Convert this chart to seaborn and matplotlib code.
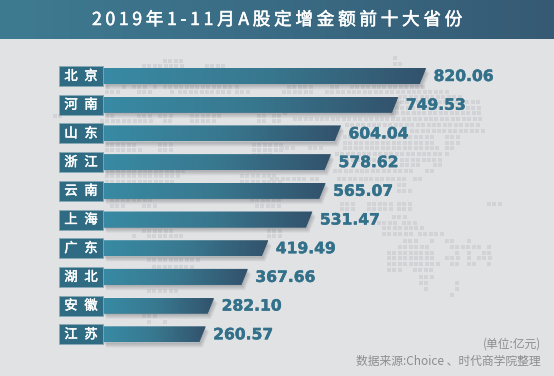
import numpy as np
import matplotlib
matplotlib.use('Agg')
import matplotlib.pyplot as plt
import matplotlib.patheffects as pe
from matplotlib.colors import LinearSegmentedColormap
from matplotlib.patches import Polygon, Rectangle
import seaborn as sns

title = '2019年1-11月A股定增金额前十大省份'
provinces = ['北京', '河南', '山东', '浙江', '云南', '上海', '广东', '湖北', '安徽', '江苏']
values = [820.06, 749.53, 604.04, 578.62, 565.07, 531.47, 419.49, 367.66, 282.10, 260.57]
unit_note = '(单位:亿元)'
source_note = '数据来源:Choice 、时代商学院整理'

# background world map, dot runs per row: y, then x start / x end in pixels
map_rows = [
    (58, [(393, 397)]), (61, [(163, 182)]), (64, [(393, 400)]),
    (66, [(142, 182), (205, 225)]),
    (87, [(105, 108), (122, 124), (132, 145), (153, 155), (163, 230), (235, 238), (287, 308), (330, 338), (350, 420)]),
    (92, [(105, 115), (137, 152), (170, 172), (178, 230), (235, 245), (282, 312), (325, 448)]),
    (97, [(398, 458)]), (102, [(400, 480)]), (108, [(395, 480)]), (113, [(283, 286), (390, 480)]),
    (116, [(53, 58), (105, 113), (137, 152), (158, 172), (190, 220), (257, 265), (272, 280)]),
    (119, [(293, 480)]),
    (121, [(100, 152), (163, 172), (190, 213), (257, 265), (272, 280)]),
    (125, [(345, 480)]), (131, [(410, 480)]),
    (137, [(343, 433), (445, 459)]), (143, [(343, 433), (445, 459)]),
    (145, [(105, 135), (158, 172), (252, 280)]),
    (148, [(280, 295), (308, 323), (343, 438), (445, 453)]),
    (150, [(105, 140), (158, 172), (252, 280)]),
    (154, [(335, 438), (445, 448)]), (155, [(252, 270)]),
    (160, [(340, 438)]), (165, [(400, 417), (433, 438)]),
    (171, [(105, 182), (333, 412), (425, 433)]),
    (176, [(105, 177), (240, 277)]),
    (179, [(270, 302), (310, 317), (337, 403), (413, 422)]),
    (182, [(105, 172), (240, 280)]),
    (185, [(397, 405)]), (191, [(397, 407)]),
    (200, [(110, 152), (250, 280)]),
    (204, [(340, 353), (367, 390), (397, 407), (487, 500)]),
    (206, [(110, 125), (142, 157), (255, 280)]),
    (209, [(340, 353), (367, 390), (397, 407)]),
    (217, [(392, 407)]), (223, [(377, 393), (402, 412)]),
    (228, [(382, 422)]), (231, [(142, 172), (267, 280)]),
    (234, [(382, 412), (418, 443)]), (236, [(132, 135), (147, 182), (267, 280)]),
    (241, [(403, 417), (430, 433), (445, 453), (467, 470)]),
    (247, [(398, 428), (450, 480), (487, 491)]),
    (253, [(387, 433), (455, 459), (467, 470), (482, 491)]),
    (258, [(387, 433), (445, 459), (467, 470), (477, 491)]),
    (260, [(147, 198)]),
    (264, [(387, 438), (450, 459), (467, 475), (487, 491)]),
    (267, [(152, 193)]),
    (270, [(387, 402), (413, 433)]), (277, [(419, 433)]),
    (283, [(419, 427), (455, 459)]), (289, [(424, 427), (455, 459)]),
    (291, [(147, 177)]), (295, [(450, 453)]),
    (316, [(142, 157)]), (322, [(147, 150), (163, 167)]),
]

sns.set_theme(style='white')
cjk = ['Noto Sans CJK SC', 'DejaVu Sans']
plt.rcParams['font.family'] = cjk

W, H = 554, 376
fig = plt.figure(figsize=(W / 100, H / 100), dpi=100, facecolor='#e0e2e4')

# pixel space layer for everything behind the bars
bg = fig.add_axes([0, 0, 1, 1])
bg.set_xlim(0, W)
bg.set_ylim(H, 0)
bg.axis('off')

dot_x, dot_y = [], []
for y, runs in map_rows:
    for x0, x1 in runs:
        for x in np.arange(x0, x1 + 1, 5.45):
            dot_x.append(x + 1.8)
            dot_y.append(y)
bg.scatter(dot_x, dot_y, marker='s', s=6.0, color='#d1d3d6', linewidths=0)

band_cmap = LinearSegmentedColormap.from_list('band', ['#3e7b91', '#3a6b84', '#365a74'])
bg.imshow(np.linspace(0, 1, 256)[None, :], cmap=band_cmap, extent=(0, W, 39, 0), aspect='auto', zorder=2)
bg.set_xlim(0, W)
bg.set_ylim(H, 0)
title_text = bg.text(276.5, 20, '\u2009'.join(title), color='white', fontsize=12.8, ha='center', va='center', zorder=3)
title_text.set_path_effects([pe.withStroke(linewidth=0.35, foreground='white')])
bg.text(541, 344, unit_note, color='#8b8d90', fontsize=8.5, ha='right', va='center')
bg.text(541, 361, source_note, color='#8b8d90', fontsize=8.5, ha='right', va='center')

# bar layer, value 0 sits at x=103 px
ax = fig.add_axes([0, 0, 1, 1])
ax.patch.set_alpha(0)
x_scale = 0.394
y_pitch = 28.7
y_first = 76
bar_h = 16 / y_pitch

sns.barplot(x=values, y=provinces, orient='h', width=bar_h, color='#36607a', saturation=1, ax=ax, zorder=3)

xlim = (-103 / x_scale, (W - 103) / x_scale)
ylim = ((H - y_first) / y_pitch, -y_first / y_pitch)


def to_x(px):
    return (px - 103) / x_scale


bar_cmap = LinearSegmentedColormap.from_list('bar', ['#388aa4', '#38788f', '#33526c'])
for i, (patch, value) in enumerate(zip(ax.patches, values)):
    top = patch.get_y()
    bot = top + patch.get_height()
    slant = [(0, top), (value, top), (value - 6.5 / x_scale, bot), (0, bot)]

    # soft shadow, stacked offset copies
    for k in range(1, 10):
        dx, dy = k * 0.4 / x_scale, k * 0.6 / y_pitch
        ax.add_patch(Polygon([(max(x + dx, 0), y + dy) for x, y in slant], color='#3c3f44', alpha=0.04, lw=0, zorder=2))

    outline = Polygon(slant, transform=ax.transData, fc='none', ec='none')
    ax.add_patch(outline)
    patch.set_clip_path(outline)
    img = ax.imshow(np.linspace(0, 1, 256)[None, :], cmap=bar_cmap, extent=(0, value, bot, top), aspect='auto', zorder=4)
    img.set_clip_path(outline)

    # province box on the left
    ax.add_patch(Rectangle((to_x(58.5), i - 10 / y_pitch), 44.5 / x_scale, 20 / y_pitch,
                           fc='#2f6c84', ec='#86aab6', lw=0.6, zorder=6))
    name = ax.text(to_x(81), i, '\u2002'.join(provinces[i]), color='white', fontsize=9.6,
                   ha='center', va='center', zorder=7)
    name.set_path_effects([pe.withStroke(linewidth=0.35, foreground='white')])

    label = ax.text(value + 7.5 / x_scale, i + 0.5 / y_pitch, f'{value:.2f}', color='#33708a', fontsize=11.2,
                    fontweight='bold', family='DejaVu Sans', ha='left', va='center', zorder=7)
    label.set_path_effects([pe.withStroke(linewidth=0.3, foreground='#33708a')])

ax.set_xlim(xlim)
ax.set_ylim(ylim)
ax.axis('off')

fig.savefig('out.png', dpi=100, facecolor=fig.get_facecolor())
